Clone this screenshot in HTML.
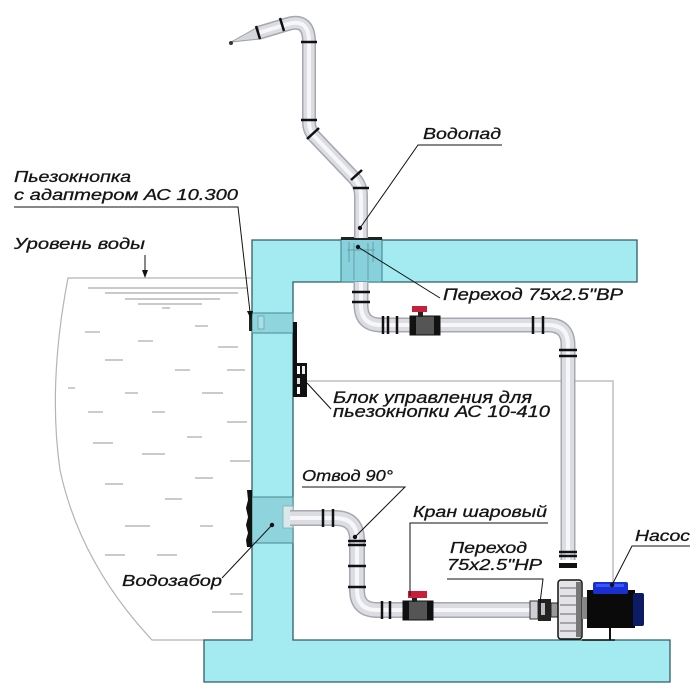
<!DOCTYPE html>
<html><head><meta charset="utf-8">
<style>
html,body{margin:0;padding:0;background:#fff;}
svg{display:block;}
text{font-family:"Liberation Sans","DejaVu Sans",sans-serif;font-style:italic;fill:#151515;stroke:#151515;stroke-width:0.3;}
</style></head>
<body>
<svg width="700" height="700" viewBox="0 0 700 700" xmlns="http://www.w3.org/2000/svg">
<rect width="700" height="700" fill="#fff"/>

<!-- water tank outline -->
<path d="M251,278 L68,278 C58,330 50,400 60,470 C75,540 110,595 152,640 L251,640" fill="none" stroke="#b4b4b4" stroke-width="1.2"/>
<g stroke="#aaaaaa" stroke-width="1.2">
<line x1="88" y1="288" x2="247" y2="288"/>
<line x1="105" y1="293" x2="238" y2="293"/>
<line x1="125" y1="299" x2="220" y2="299"/>
<line x1="138" y1="304" x2="202" y2="304"/>
<line x1="162" y1="308" x2="170" y2="308"/>
<line x1="195" y1="326" x2="208" y2="326"/>
<line x1="85" y1="332" x2="100" y2="332"/>
<line x1="138" y1="341" x2="153" y2="341"/>
<line x1="218" y1="347" x2="238" y2="347"/>
<line x1="105" y1="360" x2="123" y2="360"/>
<line x1="175" y1="370" x2="190" y2="370"/>
<line x1="227" y1="370" x2="245" y2="370"/>
<line x1="68" y1="388" x2="75" y2="388"/>
<line x1="125" y1="393" x2="138" y2="393"/>
<line x1="202" y1="393" x2="223" y2="393"/>
<line x1="88" y1="412" x2="103" y2="412"/>
<line x1="152" y1="412" x2="165" y2="412"/>
<line x1="227" y1="422" x2="247" y2="422"/>
<line x1="187" y1="437" x2="202" y2="437"/>
<line x1="93" y1="443" x2="113" y2="443"/>
<line x1="142" y1="454" x2="165" y2="454"/>
<line x1="230" y1="461" x2="250" y2="461"/>
<line x1="195" y1="478" x2="213" y2="478"/>
<line x1="105" y1="484" x2="123" y2="484"/>
<line x1="165" y1="499" x2="182" y2="499"/>
<line x1="125" y1="526" x2="150" y2="526"/>
<line x1="200" y1="526" x2="213" y2="526"/>
<line x1="105" y1="555" x2="125" y2="555"/>
<line x1="157" y1="555" x2="177" y2="555"/>
<line x1="230" y1="594" x2="243" y2="594"/>
<line x1="212" y1="612" x2="242" y2="612"/>
</g>

<!-- cyan structure -->
<path d="M252,240 L637,240 L637,282 L293,282 L293,640 L670,640 L670,682 L204,682 L204,640 L252,640 Z" fill="#a3ebf0" stroke="#2f5e63" stroke-width="1.3"/>

<!-- gray wire -->
<polyline points="307,381 613,381 613,590" fill="none" stroke="#cfcfcf" stroke-width="2"/>

<!-- piezo button -->
<rect x="252" y="313" width="41" height="20" fill="#8fd5de" stroke="#4a8a90" stroke-width="1"/>
<rect x="258" y="316" width="6" height="13" fill="#a9dfe6" stroke="#6aa0a6" stroke-width="0.8"/>
<rect x="249" y="315" width="3" height="16" fill="#222"/>

<!-- control block -->
<rect x="293" y="322" width="4" height="75" fill="#111"/>
<rect x="295" y="363" width="12" height="34" fill="#111"/>
<rect x="297" y="366" width="3" height="8" fill="#fff"/>
<rect x="302" y="366" width="3" height="8" fill="#eee"/>
<rect x="297" y="378" width="3" height="6" fill="#ddd"/>
<rect x="297" y="387" width="3" height="7" fill="#fff"/>

<!-- top fitting in slab -->
<rect x="341" y="239" width="41" height="43" fill="#86d1dc" stroke="#3f7f86" stroke-width="1"/>
<rect x="341" y="237" width="41" height="3" fill="#222"/>
<g stroke="#6a9aa3" stroke-width="1" fill="none">
<line x1="349" y1="242" x2="349" y2="262"/>
<line x1="373" y1="242" x2="373" y2="262"/>
<line x1="347" y1="250" x2="375" y2="250"/>
<line x1="354" y1="243" x2="354" y2="280"/>
<line x1="368" y1="243" x2="368" y2="280"/>
</g>

<!-- intake box -->
<rect x="252" y="497" width="41" height="46" fill="#8fd3dd" stroke="#4a8a90" stroke-width="1"/>
<rect x="283" y="506" width="10" height="22" fill="#d8e8ec" stroke="#8aa" stroke-width="0.8"/>
<path d="M247,490 L252,490 L252,547 L247,547 L246,540 L248,533 L246,525 L248,517 L246,508 L248,500 Z" fill="#111"/>

<!-- pipes -->
<g fill="none" stroke-linecap="butt" stroke-linejoin="round">
  <path d="M258,33 L288,24 Q309,18 309,42 L309,122 Q309,130 314,136 L355,179 Q361,186 361,196 L361,238" stroke="#a6a8b0" stroke-width="14"/>
  <path d="M258,33 L288,24 Q309,18 309,42 L309,122 Q309,130 314,136 L355,179 Q361,186 361,196 L361,238" stroke="#dcdde2" stroke-width="11"/>
  <path d="M258,33 L288,24 Q309,18 309,42 L309,122 Q309,130 314,136 L355,179 Q361,186 361,196 L361,238" stroke="#f7f7f9" stroke-width="4"/>
  <path d="M361,282 L361,305 Q361,325 381,325 L548,325 Q568,325 568,345 L568,560" stroke="#a6a8b0" stroke-width="15"/>
  <path d="M361,282 L361,305 Q361,325 381,325 L548,325 Q568,325 568,345 L568,560" stroke="#dcdde2" stroke-width="12"/>
  <path d="M361,282 L361,305 Q361,325 381,325 L548,325 Q568,325 568,345 L568,560" stroke="#f7f7f9" stroke-width="4"/>
  <path d="M290,518 L335,518 Q357,518 357,540 L357,590 Q357,610 377,610 L531,610" stroke="#a6a8b0" stroke-width="16"/>
  <path d="M290,518 L335,518 Q357,518 357,540 L357,590 Q357,610 377,610 L531,610" stroke="#dcdde2" stroke-width="13"/>
  <path d="M290,518 L335,518 Q357,518 357,540 L357,590 Q357,610 377,610 L531,610" stroke="#f7f7f9" stroke-width="4"/>
</g>
<!-- nozzle cone -->
<path d="M231,42 L258,27 L260,39 Z" fill="#d5d6dc" stroke="#9ea0a8" stroke-width="1"/>
<circle cx="231" cy="43" r="2" fill="#333"/>

<!-- bands -->
<g stroke="#111" stroke-width="2.5">
<line x1="256" y1="26" x2="260" y2="39"/>
<line x1="280" y1="18" x2="284" y2="31"/>
<line x1="301" y1="42" x2="317" y2="42"/>
<line x1="301" y1="120" x2="317" y2="120"/>
<line x1="307" y1="139" x2="319" y2="128"/>
<line x1="351" y1="180" x2="362" y2="170"/>
<line x1="353" y1="188" x2="369" y2="188"/>
<line x1="352" y1="292" x2="370" y2="292"/>
<line x1="352" y1="302" x2="370" y2="302"/>
<line x1="383" y1="316" x2="383" y2="334"/>
<line x1="388" y1="316" x2="388" y2="334"/>
<line x1="397" y1="316" x2="397" y2="334"/>
<line x1="533" y1="316" x2="533" y2="334"/>
<line x1="543" y1="316" x2="543" y2="334"/>
<line x1="559" y1="350" x2="577" y2="350"/>
<line x1="559" y1="356" x2="577" y2="356"/>
<line x1="559" y1="552" x2="577" y2="552"/>
<line x1="559" y1="556" x2="577" y2="556"/>
<line x1="323" y1="509" x2="323" y2="527"/>
<line x1="333" y1="509" x2="333" y2="527"/>
<line x1="348" y1="541" x2="366" y2="541"/>
<line x1="348" y1="545" x2="366" y2="545"/>
<line x1="348" y1="566" x2="366" y2="566"/>
<line x1="348" y1="587" x2="366" y2="587"/>
<line x1="382" y1="601" x2="382" y2="619"/>
<line x1="390" y1="601" x2="390" y2="619"/>
</g>
<rect x="559" y="563" width="18" height="5" fill="#111"/>

<!-- upper valve -->
<rect x="410" y="316" width="30" height="19" fill="#555" stroke="#111" stroke-width="1"/>
<rect x="410" y="316" width="6" height="19" fill="#111"/>
<rect x="434" y="316" width="6" height="19" fill="#111"/>
<rect x="418" y="312" width="5" height="5" fill="#222"/>
<rect x="412" y="306" width="15" height="6" fill="#c8203a"/>
<!-- lower valve -->
<rect x="403" y="601" width="30" height="19" fill="#555" stroke="#111" stroke-width="1"/>
<rect x="403" y="601" width="6" height="19" fill="#111"/>
<rect x="427" y="601" width="6" height="19" fill="#111"/>
<rect x="412" y="597" width="5" height="5" fill="#222"/>
<rect x="408" y="591" width="19" height="7" fill="#c8203a"/>

<!-- pump fitting -->
<rect x="530" y="601" width="8" height="18" fill="#cfd0d5" stroke="#333" stroke-width="1"/>
<rect x="538" y="599" width="13" height="22" fill="#222"/>
<rect x="541" y="603" width="4" height="12" fill="#bbb"/>
<rect x="551" y="603" width="7" height="14" fill="#999" stroke="#222" stroke-width="1"/>
<!-- pump housing -->
<rect x="558" y="580" width="24" height="59" rx="3" fill="#e4e4e8" stroke="#111" stroke-width="1.5"/>
<g stroke="#666" stroke-width="1">
<line x1="560" y1="588" x2="580" y2="588"/>
<line x1="560" y1="596" x2="580" y2="596"/>
<line x1="560" y1="605" x2="580" y2="605"/>
<line x1="560" y1="614" x2="580" y2="614"/>
<line x1="560" y1="623" x2="580" y2="623"/>
<line x1="560" y1="631" x2="580" y2="631"/>
</g>
<rect x="576" y="582" width="5" height="55" fill="#777"/>
<rect x="582" y="597" width="6" height="22" fill="#888"/>
<!-- motor -->
<rect x="587" y="590" width="48" height="38" fill="#0a0a0a"/>
<rect x="633" y="593" width="11" height="33" rx="2" fill="#0d1a66"/>
<rect x="593" y="582" width="35" height="12" rx="2" fill="#1a2fd0"/>
<rect x="596" y="584" width="28" height="3" fill="#3a55ff"/>
<line x1="610" y1="628" x2="610" y2="640" stroke="#111" stroke-width="2"/>
<line x1="582" y1="640" x2="615" y2="640" stroke="#111" stroke-width="1.5"/>

<!-- leaders -->
<g stroke="#111" stroke-width="1" fill="none">
<polyline points="502,145 418,145 360,228"/>
<polyline points="14,207 238,207 250,312"/>
<line x1="145" y1="255" x2="145" y2="271"/>
<line x1="440" y1="298" x2="358" y2="247"/>
<line x1="307" y1="383" x2="331" y2="409"/>
<polyline points="302,487 405,487 355,537"/>
<polyline points="548,523 410,523 410,596"/>
<polyline points="447,579 543,579 540,603"/>
<polyline points="690,546 632,546 612,585"/>
<line x1="222" y1="578" x2="272" y2="525"/>
</g>
<path d="M142,270 L148,270 L145,278 Z" fill="#111"/>
<path d="M247,311 L253,311 L251,320 Z" fill="#111"/>
<g fill="#111">
<circle cx="360" cy="228" r="2.2"/>
<circle cx="358" cy="247" r="2.2"/>
<circle cx="355" cy="537" r="2.2"/>
<circle cx="612" cy="585" r="2.2"/>
<circle cx="272" cy="525" r="2.2"/>
</g>

<!-- labels -->
<text x="423" y="139" font-size="16" textLength="78" lengthAdjust="spacingAndGlyphs">Водопад</text>
<text x="14" y="182" font-size="16" textLength="117" lengthAdjust="spacingAndGlyphs">Пьезокнопка</text>
<text x="14" y="200" font-size="16" textLength="224" lengthAdjust="spacingAndGlyphs">с адаптером АС 10.300</text>
<text x="14" y="249" font-size="16" textLength="131" lengthAdjust="spacingAndGlyphs">Уровень воды</text>
<text x="443" y="300" font-size="17" textLength="180" lengthAdjust="spacingAndGlyphs">Переход 75x2.5"ВР</text>
<text x="333" y="403" font-size="17" textLength="199" lengthAdjust="spacingAndGlyphs">Блок управления для</text>
<text x="333" y="417" font-size="17" textLength="217" lengthAdjust="spacingAndGlyphs">пьезокнопки АС 10-410</text>
<text x="302" y="481" font-size="16" textLength="91" lengthAdjust="spacingAndGlyphs">Отвод 90°</text>
<text x="413" y="517" font-size="16" textLength="134" lengthAdjust="spacingAndGlyphs">Кран шаровый</text>
<text x="450" y="553" font-size="16" textLength="77" lengthAdjust="spacingAndGlyphs">Переход</text>
<text x="447" y="570" font-size="16" textLength="95" lengthAdjust="spacingAndGlyphs">75x2.5"НР</text>
<text x="635" y="541" font-size="16" textLength="55" lengthAdjust="spacingAndGlyphs">Насос</text>
<text x="122" y="586" font-size="16" textLength="100" lengthAdjust="spacingAndGlyphs">Водозабор</text>
</svg>
</body></html>
